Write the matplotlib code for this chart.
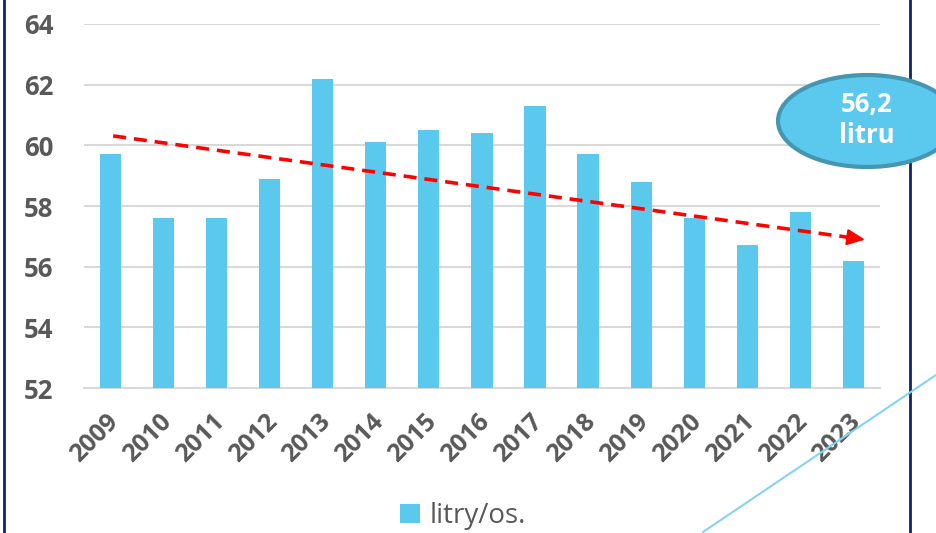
import matplotlib
matplotlib.use("Agg")
import matplotlib.pyplot as plt
import matplotlib.transforms as mtransforms
from matplotlib.patches import Ellipse, Patch
from matplotlib.lines import Line2D

years = ["2009", "2010", "2011", "2012", "2013", "2014", "2015", "2016",
         "2017", "2018", "2019", "2020", "2021", "2022", "2023"]
values = [59.7, 57.6, 57.6, 58.9, 62.2, 60.1, 60.5, 60.4,
          61.3, 59.7, 58.8, 57.6, 56.7, 57.8, 56.2]
yticks = [52, 54, 56, 58, 60, 62, 64]
series_name = "litry/os."
callout_text = "56,2\nlitru"
trend_start = (0.05, 60.31)
trend_end = (14.27, 56.88)

plt.rcParams['font.family'] = ['Open Sans', 'DejaVu Sans']

fig = plt.figure(figsize=(9.36, 5.33), dpi=100)
ax = fig.add_axes([0.0897, 0.272, 0.8504, 0.683])

bar_color = "#5BC9EE"
x = list(range(len(years)))
ax.bar(x, values, width=0.4, color=bar_color, zorder=3, bottom=0)
ax.set_ylim(52, 64)
ax.set_xlim(-0.5, len(years) - 0.5)
ax.set_yticks(yticks)
ax.set_yticklabels([str(v) for v in yticks], fontsize=18.5, fontweight='bold', color='#595959')
ax.set_xticks(x)
ax.set_xticklabels(years, rotation=45, ha='right', rotation_mode='anchor',
                   fontsize=18, fontweight='bold', color='#595959')
ax.tick_params(axis='both', length=0)
ax.tick_params(axis='y', pad=22)
ax.tick_params(axis='x', pad=0)
offset = mtransforms.ScaledTranslation(-5 / 100, -21 / 100, fig.dpi_scale_trans)
for lbl in ax.get_xticklabels():
    lbl.set_transform(lbl.get_transform() + offset)
ax.grid(axis='y', color='#D9D9D9', linewidth=1.5, zorder=0)
for s in ['top', 'right', 'left']:
    ax.spines[s].set_visible(False)
ax.spines['bottom'].set_color('#D9D9D9')
ax.spines['bottom'].set_linewidth(1.5)

# trend arrow
ax.plot([trend_start[0], trend_end[0] - 0.3], [trend_start[1], trend_end[1] + 0.072],
        color='#FF0000', linewidth=2.6, linestyle=(0, (3.6, 2.2)), zorder=5)
ax.annotate("", xy=trend_end, xytext=(trend_end[0] - 0.32, trend_end[1] + 0.077),
            arrowprops=dict(arrowstyle='-|>,head_width=0.5,head_length=1.1',
                            color='#FF0000', lw=1.5), zorder=6)

# borders and decorative line
fig.add_artist(Line2D([4 / 936, 4 / 936], [0, 1], color='#0F2469', linewidth=2))
fig.add_artist(Line2D([910 / 936, 910 / 936], [0, 1], color='#0F2469', linewidth=2))
fig.add_artist(Line2D([703 / 936, 936 / 936], [1 - 532 / 533, 1 - 375 / 533],
                      color='#86D3F0', linewidth=1.5))

# callout ellipse
ell = Ellipse((867 / 936, 1 - 121 / 533), width=178 / 936, height=92 / 533,
              transform=fig.transFigure, facecolor=bar_color, edgecolor='#4496B3',
              linewidth=3, zorder=10)
fig.add_artist(ell)
fig.text(867 / 936, 1 - 120 / 533, callout_text, ha='center', va='center',
         color='white', fontsize=18.5, fontweight='bold', linespacing=1.15, zorder=11)

# legend
handle = Patch(facecolor=bar_color, edgecolor='none')
fig.legend([handle], [series_name], loc='center', bbox_to_anchor=(463 / 936, 1 - 516 / 533),
           frameon=False, fontsize=20, handlelength=0.7, handleheight=0.7,
           handletextpad=0.35, labelcolor='#595959')

fig.savefig("out.png", dpi=100)
